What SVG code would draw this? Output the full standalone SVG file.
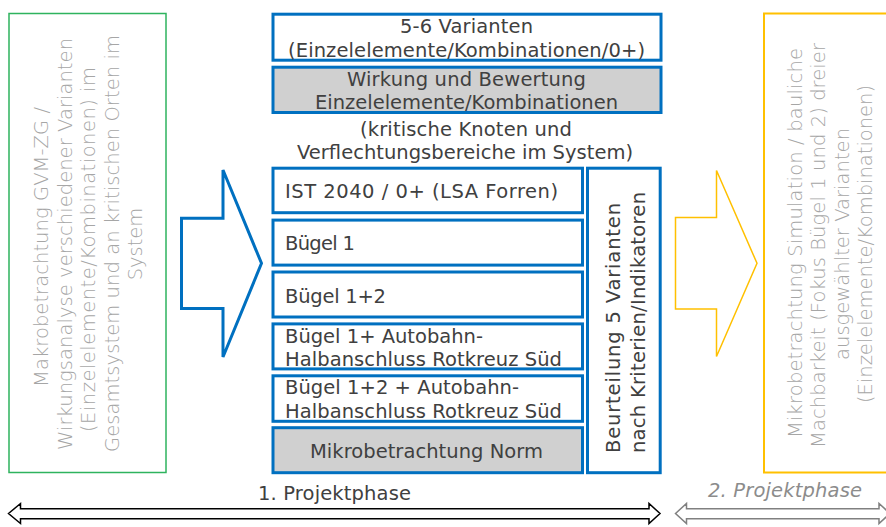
<svg xmlns="http://www.w3.org/2000/svg" width="886" height="527" viewBox="0 0 886 527">
<style>
.t{font-family:"DejaVu Sans","Liberation Sans",sans-serif;font-size:19.5px;fill:#404040}
.g{font-family:"DejaVu Sans","Liberation Sans",sans-serif;font-size:19.5px;font-weight:300;fill:#a6a6a6}
.m{text-anchor:middle}
.box{fill:#ffffff;stroke:#0070c0;stroke-width:3}
.grey{fill:#d0d0d0;stroke:#0070c0;stroke-width:3}
</style>
<rect width="886" height="527" fill="#ffffff"/>
<g id="makro">
<rect x="9" y="13.5" width="157" height="459" fill="#ffffff" stroke="#2eb35e" stroke-width="1.5"/>
<text class="g m" transform="translate(48,247) rotate(-90)" textLength="280">Makrobetrachtung GVM-ZG /</text>
<text class="g m" transform="translate(71.5,244) rotate(-90)" textLength="412">Wirkungsanalyse verschiedener Varianten</text>
<text class="g m" transform="translate(95,249.5) rotate(-90)" textLength="365">(Einzelelemente/Kombinationen) im</text>
<text class="g m" transform="translate(118.5,243.5) rotate(-90)" textLength="417">Gesamtsystem und an kritischen Orten im</text>
<text class="g m" transform="translate(142,244) rotate(-90)">System</text>
</g>
<g id="varianten">
<rect class="box" x="273" y="14.2" width="388" height="46"/>
<text class="t m" x="466.5" y="33" textLength="133">5-6 Varianten</text>
<text class="t m" x="466.5" y="56.5" textLength="357">(Einzelelemente/Kombinationen/0+)</text>
</g>
<g id="wirkung">
<rect class="grey" x="273" y="67.2" width="388" height="45.3"/>
<text class="t m" x="466.5" y="86" textLength="239">Wirkung und Bewertung</text>
<text class="t m" x="466.5" y="108.5" textLength="303">Einzelelemente/Kombinationen</text>
</g>
<g id="kritisch">
<text class="t m" x="466" y="136" textLength="212">(kritische Knoten und</text>
<text class="t m" x="465" y="159" textLength="336">Verflechtungsbereiche im System)</text>
</g>
<g id="ist">
<rect class="box" x="273" y="168.2" width="309.5" height="44.5"/>
<text class="t" x="285" y="198" textLength="273">IST 2040 / 0+ (LSA Forren)</text>
</g>
<g id="buegel1">
<rect class="box" x="273" y="220.1" width="309.5" height="45"/>
<text class="t" x="285" y="250" textLength="70">Bügel 1</text>
</g>
<g id="buegel12">
<rect class="box" x="273" y="272" width="309.5" height="45"/>
<text class="t" x="285" y="302.7" textLength="101">Bügel 1+2</text>
</g>
<g id="buegel1auto">
<rect class="box" x="273" y="323.9" width="309.5" height="45"/>
<text class="t" x="285" y="342.7" textLength="198">Bügel 1+ Autobahn-</text>
<text class="t" x="285" y="366" textLength="277">Halbanschluss Rotkreuz Süd</text>
</g>
<g id="buegel12auto">
<rect class="box" x="273" y="375.8" width="309.5" height="45.5"/>
<text class="t" x="285" y="394" textLength="234">Bügel 1+2 + Autobahn-</text>
<text class="t" x="285" y="417.7" textLength="277">Halbanschluss Rotkreuz Süd</text>
</g>
<g id="mikronorm">
<rect class="grey" x="273" y="427.7" width="309.5" height="45"/>
<text class="t m" x="426.5" y="457.7" textLength="233">Mikrobetrachtung Norm</text>
</g>
<g id="beurteilung">
<rect class="box" x="587.5" y="168.2" width="72.7" height="304.5"/>
<text class="t" transform="translate(620,453) rotate(-90)" textLength="250">Beurteilung  5 Varianten</text>
<text class="t" transform="translate(645,453) rotate(-90)" textLength="261">nach Kriterien/Indikatoren</text>
</g>
<g id="mikro">
<rect x="764" y="13.5" width="130" height="459" fill="#ffffff" stroke="#ffc000" stroke-width="2"/>
<text class="g m" transform="translate(802,243) rotate(-90)" textLength="390">Mikrobetrachtung Simulation / bauliche</text>
<text class="g m" transform="translate(825,245.5) rotate(-90)" textLength="405">Machbarkeit (Fokus Bügel 1 und 2) dreier</text>
<text class="g m" transform="translate(848.5,244) rotate(-90)" textLength="232">ausgewählter Varianten</text>
<text class="g m" transform="translate(872,244) rotate(-90)" textLength="318">(Einzelelemente/Kombinationen)</text>
</g>
<g id="connectors">
<polygon points="181.5,218.2 223,218.2 223,170 261.5,263.3 223,357 223,308.6 181.5,308.6" fill="#ffffff" stroke="#0070c0" stroke-width="3" stroke-linejoin="miter"/>
<polygon points="675.5,217.5 716.5,217.5 716.5,170.5 757,263.3 716.5,356.5 716.5,309 675.5,309" fill="#ffffff" stroke="#ffc000" stroke-width="1.5"/>
<polygon points="8.5,513.5 20.5,503.5 20.5,508.7 649,508.7 649,503.5 660,513.5 649,523.5 649,518.8 20.5,518.8 20.5,523.5" fill="#ffffff" stroke="#000000" stroke-width="1.5"/>
<polygon points="675.5,513.5 686.5,503.5 686.5,508.7 879,508.7 879,503.5 890,513.5 879,523.5 879,518.8 686.5,518.8 686.5,523.5" fill="#ffffff" stroke="#808080" stroke-width="1.5"/>
</g>
<g id="phase1">
<text class="t" x="258" y="500" textLength="153">1. Projektphase</text>
</g>
<g id="phase2">
<text class="t" x="708" y="497" textLength="154" style="font-style:italic;fill:#8c8c8c">2. Projektphase</text>
</g>
</svg>
